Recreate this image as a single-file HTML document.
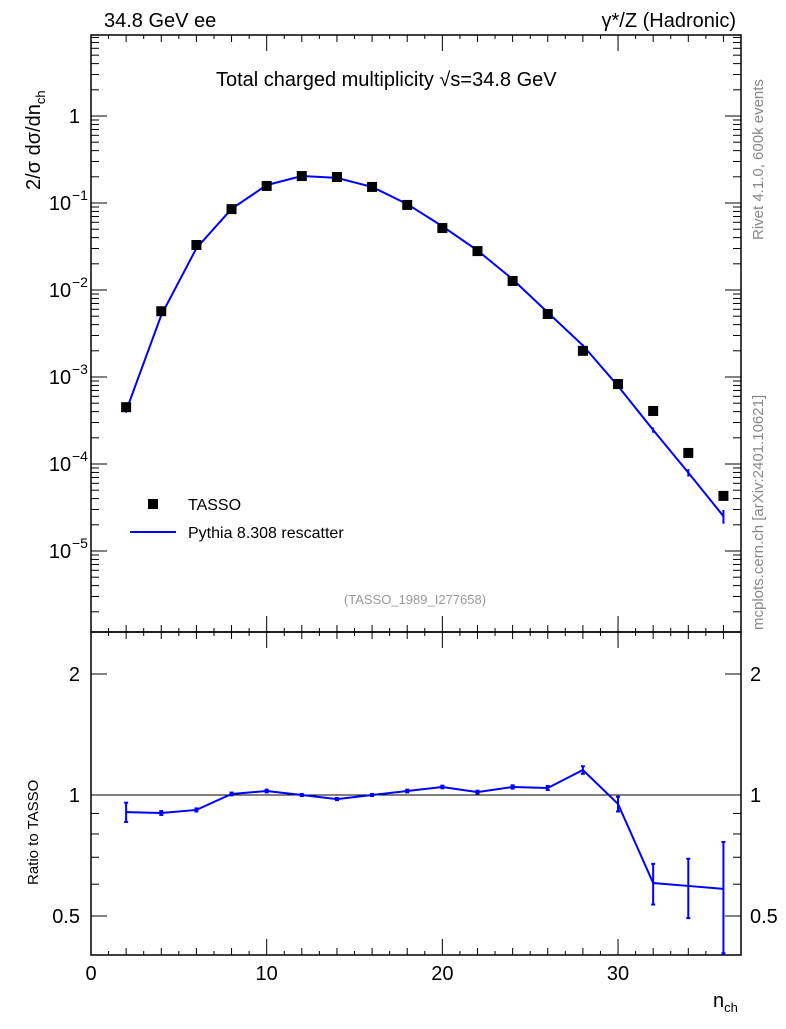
<!DOCTYPE html>
<html><head><meta charset="utf-8"><style>
body{margin:0;background:#fff;}
svg text{font-family:"Liberation Sans",sans-serif;}
</style></head><body>
<svg id="c" width="786" height="1024" xmlns="http://www.w3.org/2000/svg"></svg>
<script>
const nch=[2,4,6,8,10,12,14,16,18,20,22,24,26,28,30,32,34,36];
const tasso=[4.5e-4,5.7e-3,0.0329,0.085,0.157,0.204,0.199,0.153,0.095,0.0516,0.028,0.0127,0.0053,0.002,8.3e-4,4.07e-4,1.34e-4,4.3e-5];
const ratio=[0.907,0.902,0.918,1.006,1.023,1.0,0.977,1.0,1.023,1.047,1.017,1.047,1.041,1.154,0.95,0.604,0.594,0.584];
const ratioErr=[0.05,0.01,0.008,0.008,0.008,0.006,0.006,0.006,0.008,0.008,0.008,0.01,0.012,0.025,0.04,0.07,0.1,0.18];
const xTicks=[0,10,20,30];
const yExps=[0,-1,-2,-3,-4,-5];
const rTicks=[0.5,1,2];

const NS="http://www.w3.org/2000/svg";
const svg=document.getElementById('c');
const L=91,R=741,T=35,M=632,B=955;
const X=v=>L+v*(R-L)/37;
const Y=v=>116-87*Math.log10(v);
const YR=v=>795-402*Math.log10(v);
function mk(t,a,txt){const e=document.createElementNS(NS,t);for(const k in a)e.setAttribute(k,a[k]);if(txt!==undefined)e.textContent=txt;svg.appendChild(e);return e;}
function line(x1,y1,x2,y2,c,w){return mk('line',{x1,y1,x2,y2,stroke:c||'#000','stroke-width':w||1});}
let f1=mk('rect',{x:L,y:T,width:R-L,height:M-T,fill:'none',stroke:'#000','stroke-width':1.5});


let f2=mk('rect',{x:L,y:M,width:R-L,height:B-M,fill:'none',stroke:'#000','stroke-width':1.5});


for(let i=0;i<=37;i++){const x=X(i);const h=i%10==0?16:(i%2==0?7:4);
 [[M,-1],[B,-1],[T,1],[M,1]].forEach(([y,d])=>line(x,y,x,y+d*h));}
xTicks.forEach(v=>{let t=mk('text',{x:X(v),y:980,'font-size':20,'text-anchor':'middle'},v);
 
 });
for(let e=-6;e<=1;e++)for(let m=1;m<10;m++){const v=m*Math.pow(10,e);const y=Y(v);if(y<T||y>M)continue;const h=m==1?16:8;line(L,y,L+h,y);line(R,y,R-h,y);}
yExps.forEach(e=>{const y=Y(Math.pow(10,e));
 let t=mk('text',{x:e==0?80:60,y:y+7,'font-size':20,'text-anchor':e==0?'end':'middle'},e==0?'1':'10');
 
 
 if(e!=0){let s=mk('text',{x:72,y:y-3,'font-size':14},'−'+(-e));
 
 }});
[0.4,0.5,0.6,0.7,0.8,0.9,1,2].forEach(v=>{const y=YR(v);const h=(v==0.5||v==1||v==2)?16:8;line(L,y,L+h,y);line(R,y,R-h,y);});
rTicks.forEach(v=>{const y=YR(v)+7;
 let a=mk('text',{x:80,y,'font-size':20,'text-anchor':'end'},v);
 
 
 let b=mk('text',{x:750,y,'font-size':20},v);
 
 });
line(L,YR(1),R,YR(1),'#000',1);
const mc=nch.map((n,i)=>tasso[i]*ratio[i]);
let p=mk('polyline',{points:nch.map((n,i)=>X(n)+','+Y(mc[i])).join(' '),fill:'none',stroke:'#0000ff','stroke-width':2});


nch.forEach((n,i)=>{const lo=mc[i]*(1-ratioErr[i]),hi=mc[i]*(1+ratioErr[i]);line(X(n),Y(lo),X(n),Y(hi),'#0000ff',2);});
nch.forEach((n,i)=>{let r=mk('rect',{x:X(n)-5,y:Y(tasso[i])-5,width:10,height:10,fill:'#000'});
 
 });
let rp=mk('polyline',{points:nch.map((n,i)=>X(n)+','+YR(ratio[i])).join(' '),fill:'none',stroke:'#0000ff','stroke-width':2});


nch.forEach((n,i)=>{const y1=YR(ratio[i]-ratioErr[i]),y2=YR(ratio[i]+ratioErr[i]);line(X(n),y1,X(n),y2,'#0000ff',2);line(X(n)-2,y1,X(n)+2,y1,'#0000ff',2);line(X(n)-2,y2,X(n)+2,y2,'#0000ff',2);});
let ls=mk('rect',{x:148,y:499,width:10,height:10,fill:'#000'});


let ll=line(130,532,176,532,'#0000ff',2);


function txt(x,y,s,size,name,opt){let t=mk('text',Object.assign({x,y,'font-size':size},opt||{}),s);return t;}
txt(188,510,'TASSO',16,'legend-tasso');
txt(188,538,'Pythia 8.308 rescatter',16,'legend-pythia');
txt(415,604,'(TASSO_1989_I277658)',13,'analysis-id',{'text-anchor':'middle',fill:'#999'});
txt(104,27,'34.8 GeV ee',20,'beam-label');
txt(736,27,'γ*/Z (Hadronic)',20,'process-label',{'text-anchor':'end'});
txt(216,86,'Total charged multiplicity √s=34.8 GeV',20,'plot-title');
txt(0,0,'Rivet 4.1.0,  600k events',15,'rivet-label',{fill:'#888',transform:'translate(763,240) rotate(-90)'});
txt(0,0,'mcplots.cern.ch [arXiv:2401.10621]',15,'mcplots-label',{fill:'#888',transform:'translate(763,630) rotate(-90)'});
let yt=txt(0,0,'2/σ   dσ/dn',20,'y-axis-title',{transform:'translate(40,190) rotate(-90)'});
let ys=document.createElementNS(NS,'tspan');ys.setAttribute('font-size','13');ys.setAttribute('dy','5');ys.textContent='ch';yt.appendChild(ys);
txt(0,0,'Ratio to TASSO',15,'ratio-axis-title',{transform:'translate(38,885) rotate(-90)'});
let xt=txt(713,1007,'n',20,'x-axis-title');
let xs=document.createElementNS(NS,'tspan');xs.setAttribute('font-size','13');xs.setAttribute('dy','5');xs.textContent='ch';xt.appendChild(xs);
</script>
</body></html>
